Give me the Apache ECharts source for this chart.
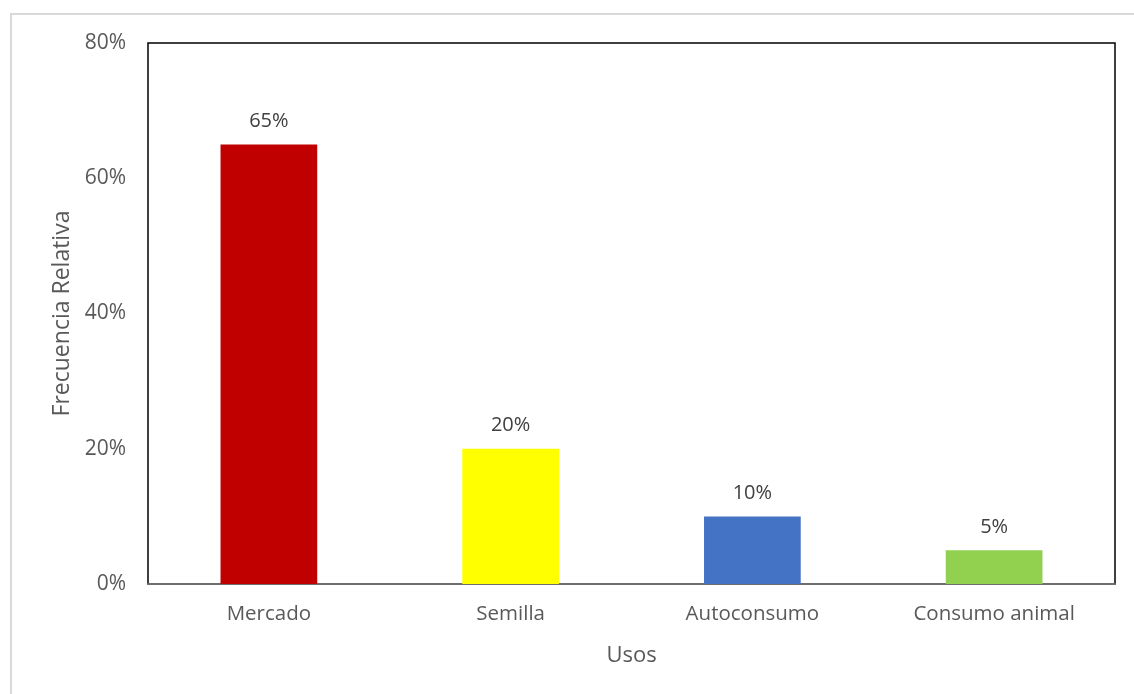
<!DOCTYPE html>
<html>
<head>
<meta charset="utf-8">
<script src="https://cdn.jsdelivr.net/npm/echarts@6/dist/echarts.min.js"></script>
<style>
  html, body { margin: 0; padding: 0; background: #fff; }
  #frame { position: absolute; left: 10px; top: 13px; width: 1140px; height: 700px; border: 2px solid #d9d9d9; box-sizing: border-box; }
  #chart { position: absolute; left: 0; top: 0; width: 1134px; height: 694px; }
</style>
</head>
<body>
<div id="frame"></div>
<div id="chart"></div>
<script>
// Usos del producto y su frecuencia relativa (%)
const categories = ['Mercado', 'Semilla', 'Autoconsumo', 'Consumo animal'];
const values = [65, 20, 10, 5];
const barColors = ['#C00000', '#FFFF00', '#4472C4', '#92D050'];
const yTicks = [0, 20, 40, 60, 80];

const FONT = '"Open Sans", "Noto Sans", sans-serif';
const TEXT = '#595959';

const chart = echarts.init(document.getElementById('chart'), null, { renderer: 'canvas' });
chart.setOption({
  animation: false,
  backgroundColor: 'transparent',
  grid: { left: 148, top: 43, right: 19, bottom: 110, containLabel: false,
          show: true, borderColor: '#000', borderWidth: 1.5, backgroundColor: 'transparent' },
  xAxis: {
    type: 'category',
    data: categories,
    name: 'Usos',
    nameLocation: 'middle',
    nameGap: 61,
    nameTextStyle: { fontFamily: FONT, fontSize: 22, color: TEXT },
    axisLine: { show: true, lineStyle: { color: '#7f7f7f', width: 1.5 } },
    axisTick: { show: false },
    axisLabel: { fontFamily: FONT, fontSize: 20.5, color: TEXT, margin: 20 }
  },
  yAxis: {
    type: 'value',
    min: yTicks[0],
    max: yTicks[yTicks.length - 1],
    interval: 20,
    name: 'Frecuencia Relativa',
    nameLocation: 'middle',
    nameGap: 74,
    nameTextStyle: { fontFamily: FONT, fontSize: 23, color: TEXT },
    axisLine: { show: false },
    axisTick: { show: false },
    splitLine: { show: false },
    axisLabel: { fontFamily: FONT, fontSize: 21, color: TEXT, margin: 22,
                 formatter: v => v + '%' }
  },
  series: [{
    type: 'bar',
    barWidth: '40%',
    data: values.map((v, i) => ({ value: v, itemStyle: { color: barColors[i] } })),
    label: {
      show: true,
      position: 'top',
      distance: 13,
      fontFamily: FONT,
      fontSize: 20,
      color: '#404040',
      formatter: p => p.value + '%'
    }
  }]
});
</script>
</body>
</html>
